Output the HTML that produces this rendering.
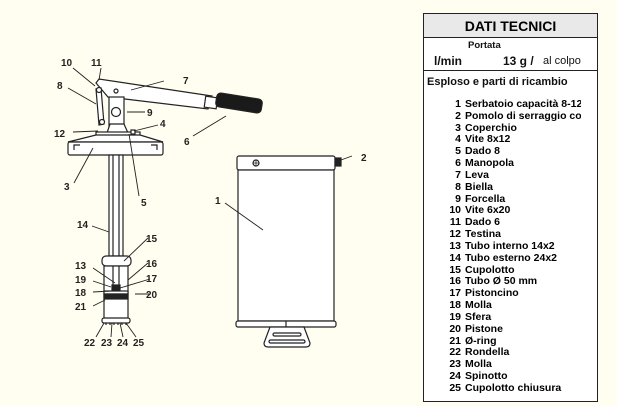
<!DOCTYPE html>
<html><head><meta charset="utf-8"><style>
html,body{margin:0;padding:0;background:#fffef0;}
body{width:617px;height:406px;position:relative;overflow:hidden;font-family:"Liberation Sans",sans-serif;}
svg{position:absolute;left:0;top:0;}
.box{position:absolute;left:423px;top:13px;width:173px;height:387px;border:1.3px solid #222;background:#fff;}
.hd{height:23px;background:#e9e9e9;border-bottom:1.3px solid #222;text-align:center;font-weight:bold;font-size:14px;line-height:25px;}
.t{position:absolute;white-space:nowrap;color:#111;}
.list{position:absolute;left:25px;top:85px;width:132px;overflow:hidden;font-size:10.5px;font-weight:bold;line-height:11.83px;}
.list div{white-space:nowrap;}
.list span{display:inline-block;width:12px;text-align:right;margin-right:4px;}
</style></head><body>
<svg width="617" height="406" viewBox="0 0 617 406" font-family="Liberation Sans,sans-serif" font-size="10" font-weight="bold" fill="#222">
<g stroke="#222" stroke-width="1.2" fill="#fff">
<polygon points="96,83 99,79 212,96 208,109 108,97"/>
<rect x="205" y="97" width="12" height="11" transform="rotate(8 211 102)"/>
<rect x="216" y="96" width="46" height="14" rx="4" fill="#1a1a1a" transform="rotate(9 239 103)"/>
<rect x="109" y="97" width="15" height="31"/>
<circle cx="116" cy="112" r="4.5"/>
<circle cx="116" cy="91" r="2" />
<polygon points="96,89 101,88 104,124 99,125"/>
<circle cx="99" cy="90" r="2.5"/>
<circle cx="102" cy="122" r="2.5"/>
<polygon points="107,133 110,124 124,124 128,133"/>
<rect x="96" y="132" width="44" height="4"/>
<rect x="131" y="130" width="4" height="4"/>
<polygon points="96,135 140,135 163,142 68,142"/>
<rect x="68" y="142" width="95" height="13" rx="2"/>
<path d="M74 150 v-5 h6 M157 150 v-5 h-6" fill="none"/>
<rect x="109" y="155" width="14" height="101"/>
<line x1="113" y1="155" x2="113" y2="256"/>
<line x1="119" y1="155" x2="119" y2="256"/>
<rect x="102" y="256" width="29" height="10" rx="4"/>
<rect x="104" y="266" width="24" height="53"/>
<line x1="113" y1="266" x2="113" y2="288"/><line x1="119" y1="266" x2="119" y2="288"/>
<rect x="112" y="285" width="8" height="6" fill="#222"/>
<rect x="104" y="291" width="24" height="3" fill="#fff"/>
<rect x="104" y="294" width="24" height="5" fill="#222"/>
<rect x="102" y="318" width="28" height="5" rx="2"/>
<path d="M106 323v2M110 323v2M114 323v2M118 323v2M122 323v2M126 323v2" fill="none"/>
<rect x="237" y="156" width="98" height="14" rx="2"/>
<rect x="238" y="170" width="96" height="151"/>
<circle cx="256" cy="163" r="3"/>
<path d="M253.5 163h5M256 160.5v5" fill="none" stroke-width="0.8"/>
<rect x="335" y="158" width="6" height="8" fill="#222"/>
<rect x="236" y="321" width="100" height="6" rx="2"/>
<line x1="286" y1="321" x2="286" y2="327"/>
<path d="M270 327 L264 343 Q264 347 268 347 H306 Q310 347 310 343 L304 327 Z"/>
<rect x="273" y="333" width="28" height="3" rx="1.5"/>
<rect x="269" y="340" width="36" height="3" rx="1.5"/>
</g>
<g stroke="#222" stroke-width="0.9" fill="none">
<path d="M73 68 L95 86 M101 68 L99 80 M68 88 L96 104 M164 81 L131 90 M127 112 L145 112 M158 125 L134 131 M73 132 L98 131 M193 136 L226 116 M74 183 L93 148 M139 196 L129 134 M225 203 L263 230 M92 226 L109 232 M352 156 L341 160"/>
<path d="M148 238 L124 261 M93 268 L115 283 M148 263 L128 280 M93 281 L111 287 M150 279 L120 288 M93 292 L111 291 M135 294 L149 294 M93 306 L105 300"/>
<path d="M96 337 L104 323 M111 337 L112 323 M123 337 L120 323 M136 337 L126 323"/>
</g>
<g>
<text x="61" y="66">10</text><text x="91" y="66">11</text><text x="57" y="89">8</text>
<text x="183" y="84">7</text><text x="147" y="116">9</text><text x="160" y="127">4</text>
<text x="54" y="137">12</text><text x="184" y="145">6</text><text x="64" y="190">3</text>
<text x="141" y="206">5</text><text x="215" y="204">1</text><text x="361" y="161">2</text>
<text x="77" y="228">14</text><text x="146" y="242">15</text><text x="75" y="269">13</text>
<text x="146" y="267">16</text><text x="75" y="283">19</text><text x="146" y="282">17</text>
<text x="75" y="296">18</text><text x="146" y="298">20</text><text x="75" y="310">21</text>
<text x="84" y="346">22</text><text x="101" y="346">23</text><text x="117" y="346">24</text><text x="133" y="346">25</text>
</g>
</svg>
<div class="box">
<div class="hd">DATI TECNICI</div>
<div class="t" style="left:44px;top:26px;font-size:9.5px;font-weight:bold;">Portata</div>
<div class="t" style="left:10px;top:40px;font-size:12px;font-weight:bold;">l/min</div>
<div class="t" style="left:79px;top:40px;font-size:12px;font-weight:bold;">13 g /</div>
<div class="t" style="left:119px;top:41px;font-size:11px;">al colpo</div>
<div style="position:absolute;left:0;top:56px;width:100%;border-top:1.3px solid #222;"></div>
<div class="t" style="left:3px;top:62px;font-size:11px;font-weight:bold;">Esploso e parti di ricambio</div>
<div class="list">
<div><span>1</span>Serbatoio capacità 8-12-16</div>
<div><span>2</span>Pomolo di serraggio coperchio</div>
<div><span>3</span>Coperchio</div>
<div><span>4</span>Vite 8x12</div>
<div><span>5</span>Dado 8</div>
<div><span>6</span>Manopola</div>
<div><span>7</span>Leva</div>
<div><span>8</span>Biella</div>
<div><span>9</span>Forcella</div>
<div><span>10</span>Vite 6x20</div>
<div><span>11</span>Dado 6</div>
<div><span>12</span>Testina</div>
<div><span>13</span>Tubo interno 14x2</div>
<div><span>14</span>Tubo esterno 24x2</div>
<div><span>15</span>Cupolotto</div>
<div><span>16</span>Tubo Ø 50 mm</div>
<div><span>17</span>Pistoncino</div>
<div><span>18</span>Molla</div>
<div><span>19</span>Sfera</div>
<div><span>20</span>Pistone</div>
<div><span>21</span>Ø-ring</div>
<div><span>22</span>Rondella</div>
<div><span>23</span>Molla</div>
<div><span>24</span>Spinotto</div>
<div><span>25</span>Cupolotto chiusura</div>
</div>
</div>
</body></html>
